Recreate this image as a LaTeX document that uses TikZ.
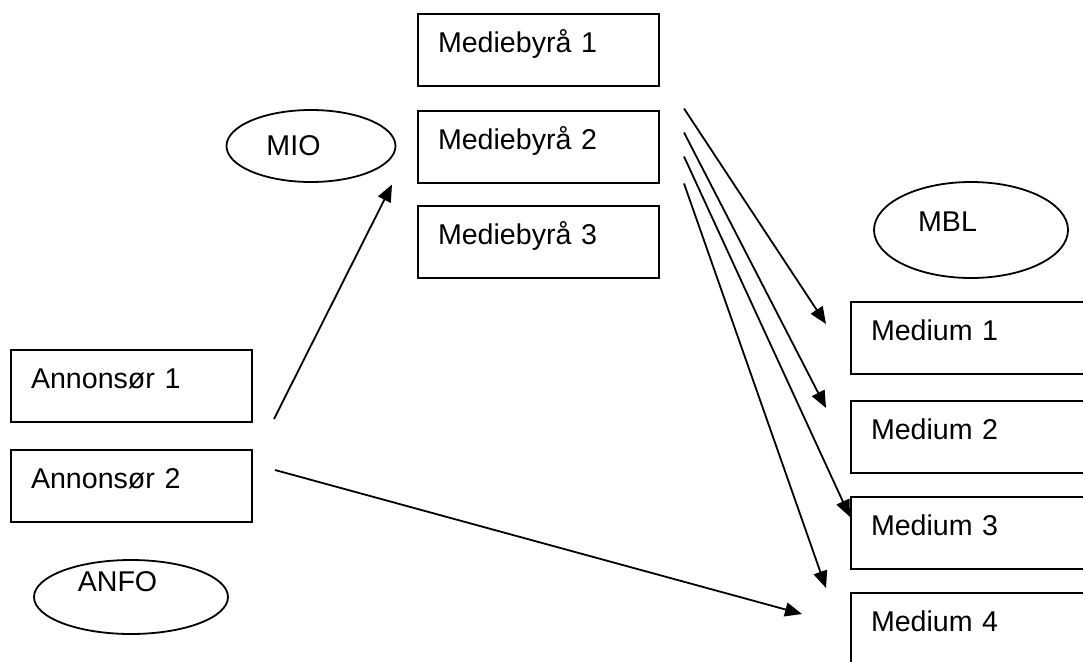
\documentclass[tikz,border=0pt]{standalone}
\usepackage{fontspec}
\setmainfont{Liberation Sans}
\usetikzlibrary{arrows.meta,shapes.geometric,calc}
\begin{document}
\begin{tikzpicture}[x=1pt,y=-1pt,
  every node/.style={font=\fontsize{28.6}{34}\selectfont},
  box/.style={draw,line width=2pt,rectangle,minimum width=241pt,minimum height=72pt,
    inner xsep=20pt,inner ysep=0pt,text width=201pt,align=left,text height=21pt,text depth=16pt},
  oval/.style={draw,line width=1.8pt,ellipse,inner sep=0pt},
  link/.style={line width=1.8pt,-{Triangle[length=17pt,width=14pt]}}]
\clip (0,0) rectangle (1083,661);
\fill[white] (0,0) rectangle (1083,661);
% boxes
\node[box] (a1) at (131.5,386) {Annonsør 1};
\node[box] (a2) at (131.5,485.5) {Annonsør 2};
\node[box] (b1) at (538.5,50) {Mediebyrå 1};
\node[box] (b2) at (538.5,146.5) {Mediebyrå 2};
\node[box] (b3) at (538.5,242) {Mediebyrå 3};
\node[box] (m1) at (971.5,338) {Medium 1};
\node[box] (m2) at (971.5,437) {Medium 2};
\node[box] (m3) at (971.5,533) {Medium 3};
\node[box] (m4) at (971.5,629) {Medium 4};
% ellipses
\node[oval,minimum width=169pt,minimum height=72pt,label={[xshift=-17.5pt]center:MIO}] (mio) at (311,146) {};
\node[oval,minimum width=194pt,minimum height=96pt,label={[xshift=-23.5pt,yshift=8pt]center:MBL}] (mbl) at (971,230) {};
\node[oval,minimum width=194pt,minimum height=74pt,label={[xshift=-13.5pt,yshift=15pt]center:ANFO}] (anfo) at (131,597) {};
% connectors
\draw[link] ($(a1.south east)+(21,-4)$) -- ($(b2.south west)+(-25,1)$);
\draw[link] ($(a2.east)+(22,-15.5)$) -- ($(m4.west)+(-48,-15)$);
\draw[link] ($(b2.north east)+(24,-1)$) -- ($(m1.west)+(-24,-14)$);
\draw[link] ($(b2.north east)+(24,23)$) -- ($(m2.west)+(-24,-29)$);
\draw[link] ($(b2.north east)+(24,47)$) -- ($(m3.west)+(0,-16)$);
\draw[link] ($(b2.south east)+(24,0)$) -- ($(m4.west)+(-24,-41)$);
\end{tikzpicture}
\end{document}
